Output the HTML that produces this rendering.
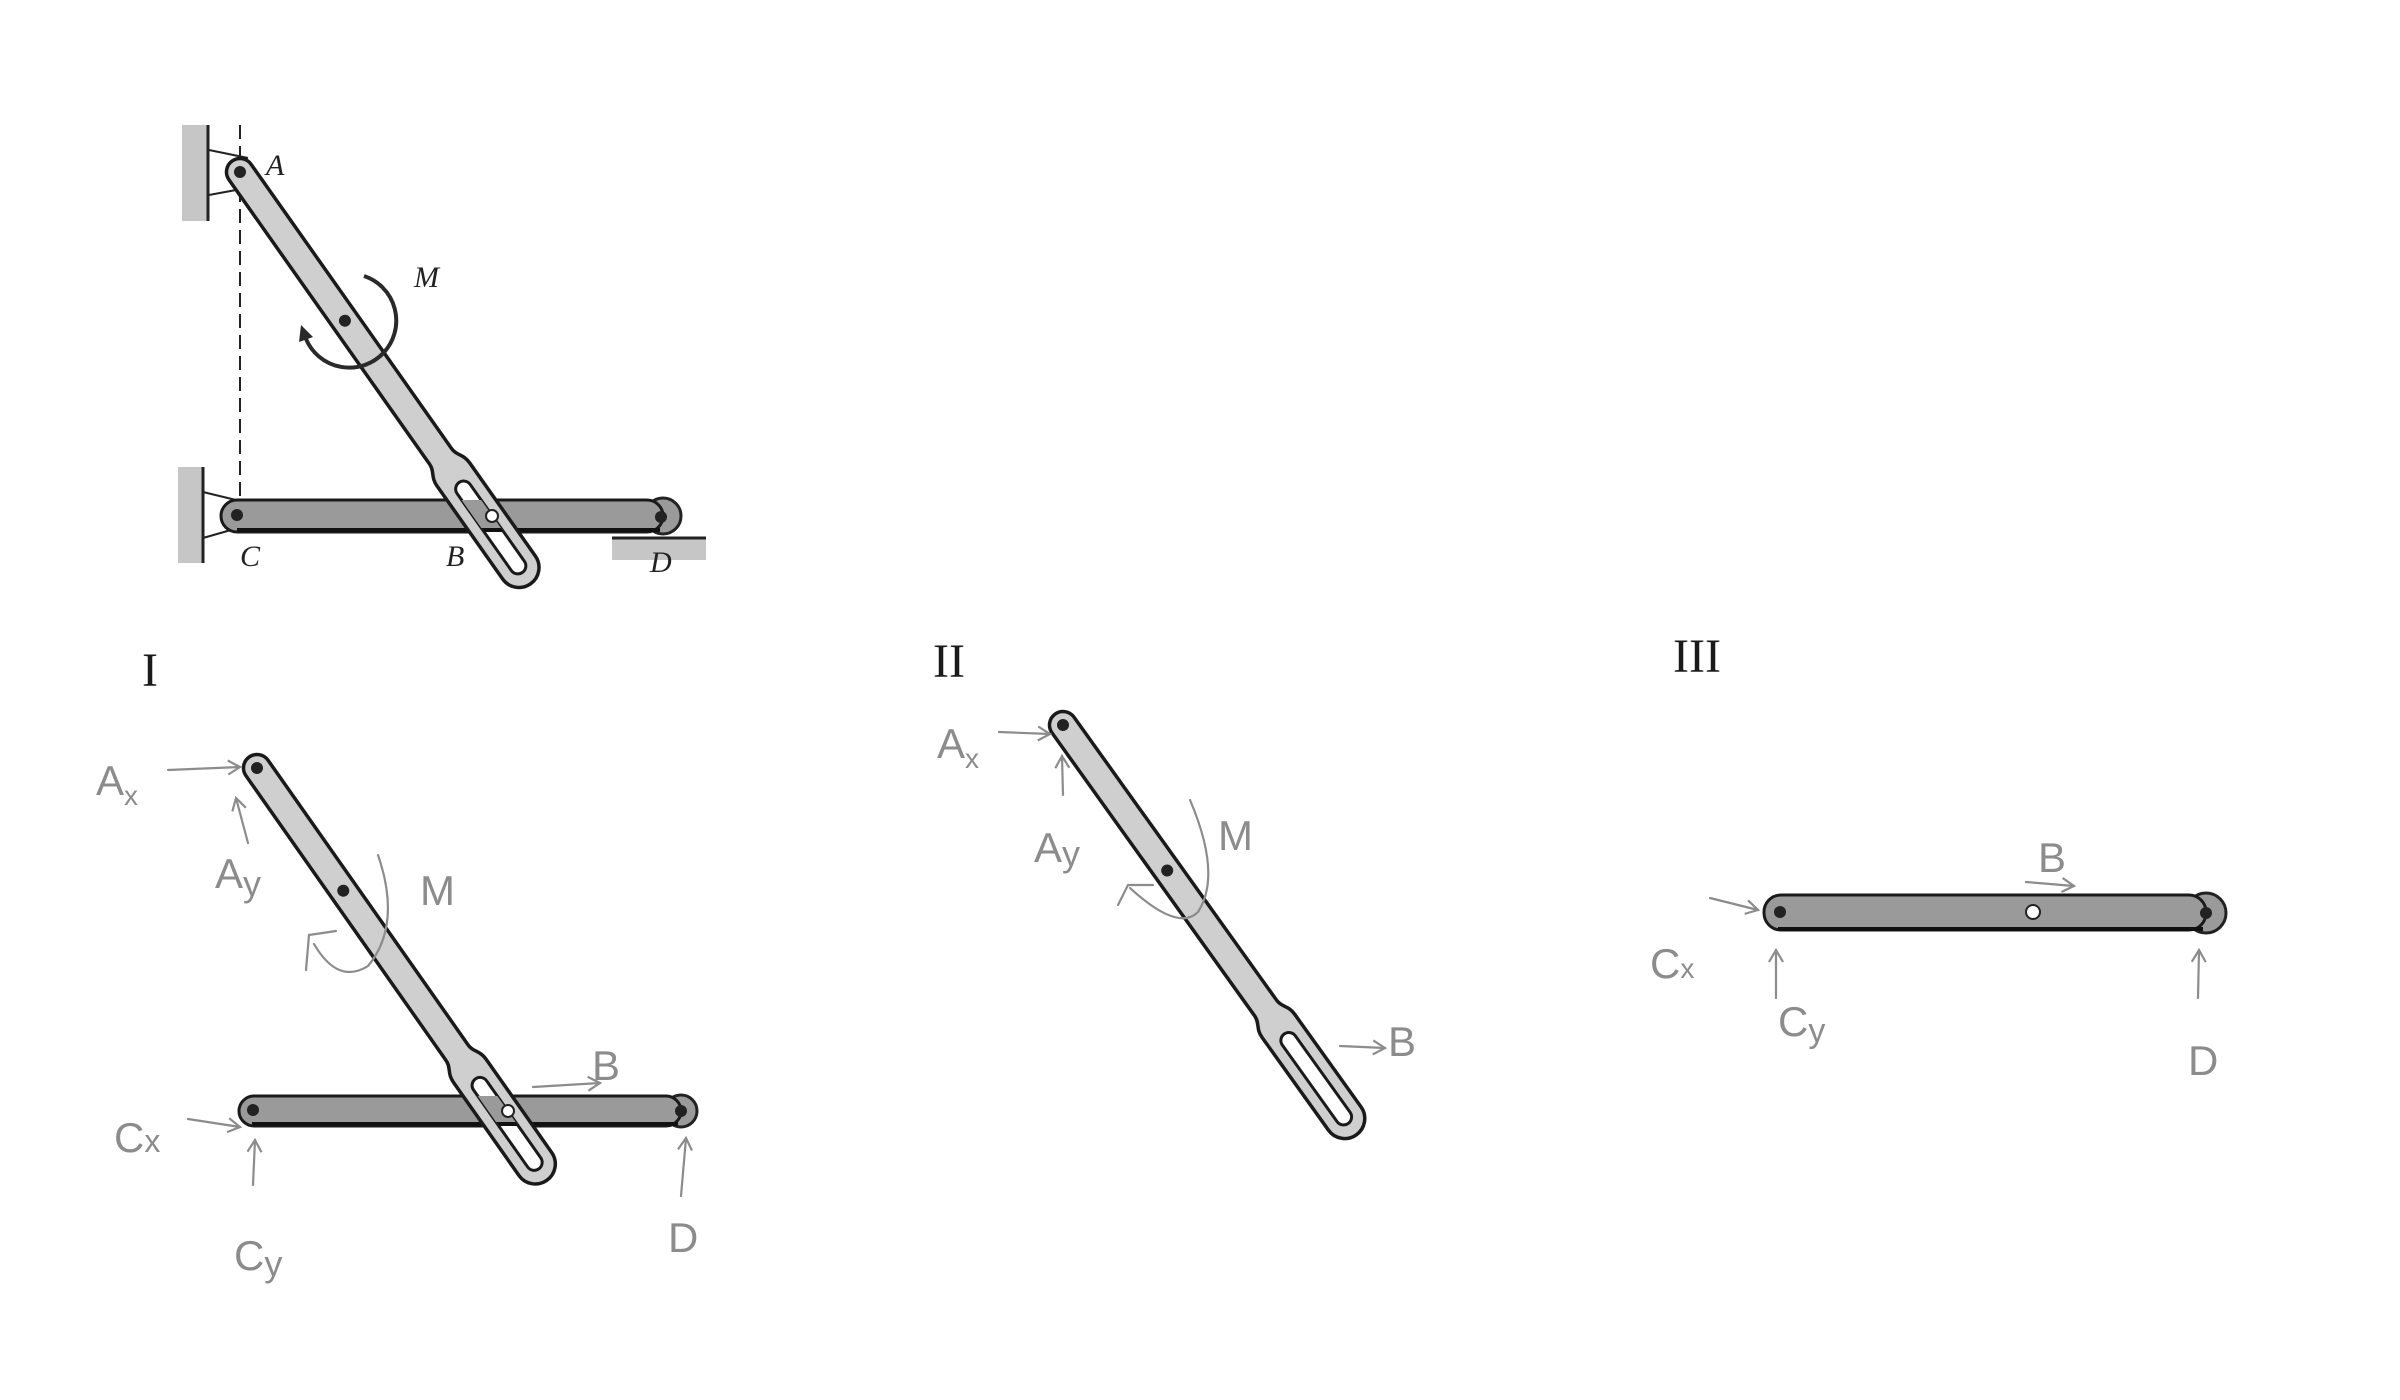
<!DOCTYPE html>
<html><head><meta charset="utf-8"><style>
html,body{margin:0;padding:0;background:#fff;}
svg{display:block;}
.lbl{font-family:"Liberation Serif",serif;font-style:italic;font-size:30px;fill:#222;}
.num{font-family:"Liberation Serif",serif;font-size:48px;fill:#1a1a1a;}
.hw{font-family:"Liberation Sans",sans-serif;fill:#8c8c8c;font-size:42px;}
.hl{stroke:#8c8c8c;stroke-width:2.2;fill:none;stroke-linecap:round;}
</style></head><body>
<svg width="2400" height="1400" viewBox="0 0 2400 1400" xmlns="http://www.w3.org/2000/svg">
<defs>
  <marker id="ah" markerWidth="16" markerHeight="16" refX="13" refY="8" orient="auto" markerUnits="userSpaceOnUse">
    <path d="M1,1 L13,8 L1,15" fill="none" stroke="#8c8c8c" stroke-width="2.2"/>
  </marker>
  <path id="slotbar" d="M0,-13.5 L348,-13.5 C357,-13.5 359,-20 370,-20 L484,-20 A20,20 0 0 1 484,20 L370,20 C359,20 357,13.5 348,13.5 L0,13.5 A13.5,13.5 0 0 1 0,-13.5 Z" fill="#cfcfcf" stroke="#1a1a1a" stroke-width="3.5"/>
  <rect id="slotin" x="380" y="-8" width="110" height="16" rx="8" fill="#fff" stroke="#1a1a1a" stroke-width="3"/>
  <clipPath id="sclip"><rect x="380" y="-8" width="110" height="16" rx="8"/></clipPath>
</defs>

<!-- ===== TOP DIAGRAM ===== -->
<rect x="182" y="125" width="26" height="96" fill="#c6c6c6"/>
<line x1="208" y1="125" x2="208" y2="221" stroke="#222" stroke-width="3"/>
<line x1="209" y1="150" x2="248" y2="158" stroke="#222" stroke-width="2"/>
<line x1="209" y1="195" x2="236" y2="190" stroke="#222" stroke-width="2"/>
<rect x="178" y="467" width="25" height="96" fill="#c6c6c6"/>
<line x1="203" y1="467" x2="203" y2="563" stroke="#222" stroke-width="3"/>
<line x1="203" y1="492" x2="236" y2="500" stroke="#222" stroke-width="2"/>
<line x1="203" y1="538" x2="238" y2="528" stroke="#222" stroke-width="2"/>
<line x1="240" y1="125" x2="240" y2="500" stroke="#222" stroke-width="2" stroke-dasharray="14,7"/>
<rect x="612" y="538" width="94" height="22" fill="#c6c6c6"/>
<line x1="612" y1="538" x2="706" y2="538" stroke="#222" stroke-width="3"/>
<circle cx="663" cy="516" r="18" fill="#9a9a9a" stroke="#222" stroke-width="3"/>
<rect x="221" y="500" width="442" height="32" rx="16" fill="#9a9a9a" stroke="#1a1a1a" stroke-width="3"/>
<line x1="237" y1="530" x2="660" y2="530" stroke="#111" stroke-width="4"/>
<circle cx="237" cy="515" r="6" fill="#222"/>
<circle cx="661" cy="517" r="6" fill="#222"/>
<g transform="translate(240,172) rotate(54.8)">
  <use href="#slotbar"/><use href="#slotin"/>
  <circle cx="0" cy="0" r="6" fill="#222"/>
  <circle cx="182" cy="0" r="6" fill="#222"/>
</g>
<g clip-path="url(#sclip)" transform="translate(240,172) rotate(54.8)">
  <g transform="rotate(-54.8) translate(-240,-172)">
    <rect x="221" y="500" width="442" height="32" fill="#9a9a9a"/>
    <line x1="237" y1="530" x2="660" y2="530" stroke="#111" stroke-width="4"/>
  </g>
</g>
<circle cx="492" cy="516" r="6" fill="#fff" stroke="#222" stroke-width="2"/>
<path d="M364,276 A47,47 0 1 1 306,339" fill="none" stroke="#2a2a2a" stroke-width="4"/>
<path d="M301,325 L313,337 L299,342 Z" fill="#2a2a2a"/>
<text class="lbl" x="266" y="175">A</text>
<text class="lbl" x="414" y="287">M</text>
<text class="lbl" x="240" y="566">C</text>
<text class="lbl" x="446" y="566">B</text>
<text class="lbl" x="650" y="572">D</text>

<!-- ===== PANEL I ===== -->
<text class="num" x="150" y="686" text-anchor="middle">I</text>
<circle cx="681" cy="1111" r="16" fill="#9a9a9a" stroke="#222" stroke-width="3"/>
<rect x="239" y="1096" width="442" height="30" rx="15" fill="#9a9a9a" stroke="#1a1a1a" stroke-width="3"/>
<line x1="252" y1="1124" x2="678" y2="1124" stroke="#111" stroke-width="4"/>
<circle cx="253" cy="1110" r="6" fill="#222"/>
<circle cx="681" cy="1111" r="6" fill="#222"/>
<g transform="translate(257,768) rotate(54.9)">
  <use href="#slotbar"/><use href="#slotin"/>
  <circle cx="0" cy="0" r="6" fill="#222"/>
  <circle cx="150" cy="0" r="6" fill="#222"/>
</g>
<g clip-path="url(#sclip)" transform="translate(257,768) rotate(54.9)">
  <g transform="rotate(-54.9) translate(-257,-768)">
    <rect x="239" y="1096" width="442" height="30" fill="#9a9a9a"/>
    <line x1="252" y1="1124" x2="678" y2="1124" stroke="#111" stroke-width="4"/>
  </g>
</g>
<circle cx="508" cy="1111" r="6" fill="#fff" stroke="#222" stroke-width="2"/>
<line class="hl" x1="168" y1="770" x2="240" y2="767" marker-end="url(#ah)"/>
<line class="hl" x1="248" y1="843" x2="236" y2="798" marker-end="url(#ah)"/>
<path class="hl" d="M378,855 Q402,925 368,966 Q338,985 314,944"/>
<path class="hl" d="M306,970 L309,935 L336,931"/>
<line class="hl" x1="533" y1="1087" x2="600" y2="1083" marker-end="url(#ah)"/>
<line class="hl" x1="188" y1="1119" x2="240" y2="1127" marker-end="url(#ah)"/>
<line class="hl" x1="253" y1="1185" x2="255" y2="1140" marker-end="url(#ah)"/>
<line class="hl" x1="681" y1="1196" x2="686" y2="1138" marker-end="url(#ah)"/>
<text class="hw" x="96" y="795">A<tspan font-size="28" dy="10">x</tspan></text>
<text class="hw" x="215" y="888">A<tspan font-size="36" dy="8">y</tspan></text>
<text class="hw" x="420" y="905" font-size="56">M</text>
<text class="hw" x="592" y="1080" font-size="38">B</text>
<text class="hw" x="114" y="1152" font-size="50">C<tspan font-size="32">x</tspan></text>
<text class="hw" x="234" y="1270">C<tspan font-size="36" dy="6">y</tspan></text>
<text class="hw" x="668" y="1252">D</text>

<!-- ===== PANEL II ===== -->
<text class="num" x="949" y="677" text-anchor="middle">II</text>
<g transform="translate(1063,725) rotate(54.4)">
  <use href="#slotbar"/><use href="#slotin"/>
  <circle cx="0" cy="0" r="6" fill="#222"/>
  <circle cx="179" cy="0" r="6" fill="#222"/>
</g>
<line class="hl" x1="999" y1="732" x2="1050" y2="734" marker-end="url(#ah)"/>
<line class="hl" x1="1063" y1="795" x2="1062" y2="756" marker-end="url(#ah)"/>
<path class="hl" d="M1190,800 Q1222,875 1198,912 Q1178,932 1130,888"/>
<path class="hl" d="M1118,905 L1128,885 L1153,885"/>
<line class="hl" x1="1340" y1="1046" x2="1385" y2="1048" marker-end="url(#ah)"/>
<text class="hw" x="937" y="758">A<tspan font-size="28" dy="10">x</tspan></text>
<text class="hw" x="1034" y="862">A<tspan font-size="36" dy="4">y</tspan></text>
<text class="hw" x="1218" y="850" font-size="64">M</text>
<text class="hw" x="1388" y="1056" font-size="38">B</text>

<!-- ===== PANEL III ===== -->
<text class="num" x="1697" y="672" text-anchor="middle">III</text>
<circle cx="2206" cy="913" r="20" fill="#9a9a9a" stroke="#222" stroke-width="3"/>
<rect x="1764" y="895" width="442" height="35" rx="17" fill="#9a9a9a" stroke="#1a1a1a" stroke-width="3"/>
<line x1="1778" y1="929" x2="2203" y2="929" stroke="#111" stroke-width="4"/>
<circle cx="1780" cy="912" r="6" fill="#222"/>
<circle cx="2206" cy="913" r="6" fill="#222"/>
<circle cx="2033" cy="912" r="7" fill="#fff" stroke="#222" stroke-width="2"/>
<line class="hl" x1="2026" y1="882" x2="2074" y2="886" marker-end="url(#ah)"/>
<line class="hl" x1="1710" y1="898" x2="1758" y2="910" marker-end="url(#ah)"/>
<line class="hl" x1="1776" y1="998" x2="1776" y2="950" marker-end="url(#ah)"/>
<line class="hl" x1="2198" y1="998" x2="2199" y2="950" marker-end="url(#ah)"/>
<text class="hw" x="2038" y="872" font-size="38">B</text>
<text class="hw" x="1650" y="978" font-size="40">C<tspan font-size="28">x</tspan></text>
<text class="hw" x="1778" y="1036" font-size="40">C<tspan font-size="34" dy="6">y</tspan></text>
<text class="hw" x="2188" y="1075" font-size="44">D</text>
</svg>
</body></html>
